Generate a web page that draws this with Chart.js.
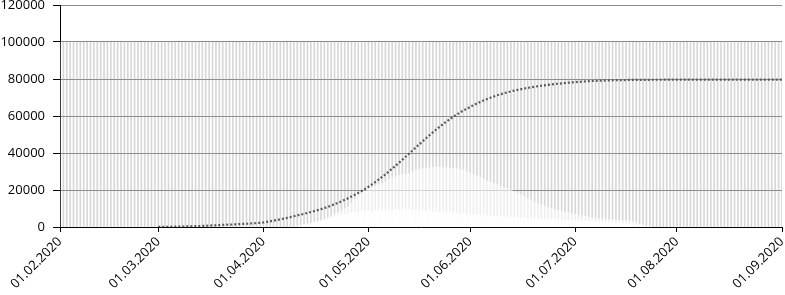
<!DOCTYPE html>
<html>
<head>
<meta charset="utf-8">
<script src="https://cdn.jsdelivr.net/npm/chart.js@4"></script>
<style>
  html, body { margin: 0; padding: 0; background: #fff; }
</style>
</head>
<body>
<canvas id="chart" width="785" height="295"></canvas>
<script>
// Achse: Tage ab 01.02.2020
const monthLabels = ['01.02.2020', '01.03.2020', '01.04.2020', '01.05.2020', '01.06.2020', '01.07.2020', '01.08.2020', '01.09.2020'];
const monthDays = [0, 29, 60, 91, 121, 152, 182, 213];
const lastDay = 213;
const yMax = 120000;
const yStep = 20000;
const rasterValue = 100000;

// Kumuliert (gepunktete Linie), ab 01.03.2020
const cumulativeStart = 29;
const cumulative = [
  20, 40, 60, 90, 120, 150, 190, 230, 280, 330, 390, 450, 520, 590, 670, 750, 840, 930, 1020, 1110,
  1200, 1290, 1380, 1470, 1560, 1660, 1760, 1870, 1990, 2120, 2280,
  2450, 2760, 3080, 3420, 3780, 4150, 4540, 4950, 5370, 5800,
  6240, 6690, 7150, 7620, 8100, 8590, 9090, 9650, 10250, 10890,
  11570, 12290, 13050, 13850, 14690, 15570, 16490, 17450, 18450, 19490,
  20570, 21750, 22990, 24290, 25640, 27040, 28490, 29990, 31530, 33110,
  34720, 36360, 38020, 39690, 41370, 43050, 44720, 46370, 48000, 49600,
  51170, 52700, 54180, 55610, 56980, 58290, 59540, 60730, 61860, 62930,
  63940, 64890, 65850, 66760, 67620, 68430, 69190, 69900, 70560, 71180,
  71760, 72300, 72800, 73270, 73710, 74120, 74500, 74860, 75200, 75520,
  75820, 76100, 76360, 76600, 76830, 77050, 77260, 77460, 77650, 77830,
  78000, 78160, 78310, 78450, 78580, 78700, 78810, 78910, 79000, 79080,
  79150, 79210, 79265, 79315, 79360, 79400, 79435, 79465, 79490, 79510,
  79530, 79545, 79560, 79570, 79580, 79590, 79600, 79605, 79610, 79615,
  79620, 79625, 79630, 79634, 79638, 79642, 79646, 79650, 79653, 79656,
  79659, 79662, 79665, 79668, 79671, 79674, 79676, 79678, 79680, 79682,
  79684, 79686, 79688, 79690, 79692, 79694, 79695, 79696, 79697, 79698,
  79699, 79700, 79701, 79702
];

// aktive Fälle (weiße Säulen, Buckel), ab Tag 72
const activeStart = 72;
const active = [
  800, 1200, 1600, 2000, 2500, 3000, 4000, 5000,
  6000, 7000, 8000, 9000, 10000, 11000, 13000, 15000, 17000, 18500,
  19500, 20500, 21300, 22000, 22800, 23500, 24500, 25800, 26500, 27200,
  27800, 28300, 28700, 29000, 29800, 30600, 31200, 31500, 31800, 32000,
  32200, 32300, 32400, 32200, 31900, 31700, 31600, 31500, 31300, 30800,
  30000, 29200, 28400, 27600, 26800, 26000, 25000, 24200, 23500, 22800,
  22000, 21400, 20700, 20000, 19000, 18200, 17300, 16400, 15500, 14500,
  13600, 12800, 12000, 11300, 10600, 10000, 9500, 9000, 8600, 8200,
  7800, 7400, 7000, 6600, 6200, 5800, 5400, 5100, 4800, 4600,
  4400, 4200, 4000, 3900, 3800, 3700, 3600, 3500, 3400, 3300,
  2500, 1500, 900
];

// tägliche Werte (untere weiße Säulen), ab Tag 70
const dailyStart = 70;
const daily = [
  500, 800, 1200, 1600, 2000, 2600, 3000, 3500, 4000, 4600,
  5000, 5500, 6000, 6500, 7000, 7400, 7800, 8200, 8000, 8600,
  8400, 8900, 8300, 9000, 8700, 9200, 8800, 9400, 8900, 9600,
  9100, 9800, 9200, 9500, 8800, 9300, 8600, 9100, 8400, 8800,
  8200, 8600, 7900, 8300, 7600, 8000, 7300, 7700, 7000, 7400,
  6800, 7100, 6500, 6800, 6200, 6500, 5900, 6200, 5600, 5900,
  5400, 5700, 5200, 5500, 5000, 5300, 4800, 5100, 4600, 4900,
  4400, 4700, 4200, 4500, 4000, 4300, 3800, 4100, 3600, 3900,
  3500, 3700, 3300, 3500, 3100, 3300, 2900, 3100, 2700, 2900,
  2500, 2700, 2300, 2500, 2100, 2300, 1900, 2000, 1600, 1700,
  1300, 1000, 700, 400, 200
];

function toPoints(values, start) {
  return values.map((v, i) => ({ x: start + i, y: v }));
}

const raster = [];
for (let d = 0; d <= lastDay; d++) raster.push({ x: d, y: rasterValue });

const font = { family: "'Open Sans', 'Noto Sans', sans-serif", size: 13 };

const ctx = document.getElementById('chart').getContext('2d');
new Chart(ctx, {
  data: {
    datasets: [
      {
        type: 'line',
        label: 'kumuliert',
        data: toPoints(cumulative, cumulativeStart),
        borderColor: '#5a5a5a',
        borderWidth: 2.2,
        borderDash: [2, 2],
        pointRadius: 0,
        tension: 0,
        order: 0
      },
      {
        type: 'bar',
        label: 'täglich',
        data: toPoints(daily, dailyStart),
        backgroundColor: 'rgba(255,255,255,0.85)',
        barThickness: 3,
        grouped: false,
        order: 1
      },
      {
        type: 'bar',
        label: 'aktiv',
        data: toPoints(active, activeStart),
        backgroundColor: 'rgba(255,255,255,0.6)',
        barThickness: 3,
        grouped: false,
        order: 2
      },
      {
        type: 'bar',
        label: 'Raster',
        data: raster,
        backgroundColor: 'rgba(160,160,160,0.42)',
        barThickness: 1,
        grouped: false,
        order: 3
      }
    ]
  },
  options: {
    responsive: false,
    animation: false,
    layout: { padding: { right: 3, top: 5 } },
    plugins: { legend: { display: false }, tooltip: { enabled: false } },
    scales: {
      x: {
        type: 'linear',
        min: 0,
        max: lastDay,
        offset: false,
        z: 1,
        afterBuildTicks: (scale) => {
          scale.ticks = monthDays.map(v => ({ value: v }));
        },
        afterFit: (scale) => {
          scale.height = 68;
          scale.paddingLeft = 0;
          scale.paddingRight = 0;
        },
        ticks: {
          autoSkip: false,
          minRotation: 45,
          maxRotation: 45,
          color: '#000',
          font: font,
          padding: 2,
          callback: (value) => monthLabels[monthDays.indexOf(value)]
        },
        grid: { offset: false, drawOnChartArea: false, tickLength: 5, tickColor: '#000' },
        border: { color: '#000', width: 1 }
      },
      y: {
        min: 0,
        max: yMax,
        z: 1,
        afterFit: (scale) => {
          scale.width = 60;
          scale.paddingTop = 0;
          scale.paddingBottom = 0;
        },
        ticks: { stepSize: yStep, color: '#000', font: font, padding: 8, callback: (value) => String(value) },
        grid: { color: '#8a8a8a', tickLength: 7, tickColor: '#000' },
        border: { color: '#000', width: 1 }
      }
    }
  }
});
</script>
</body>
</html>
